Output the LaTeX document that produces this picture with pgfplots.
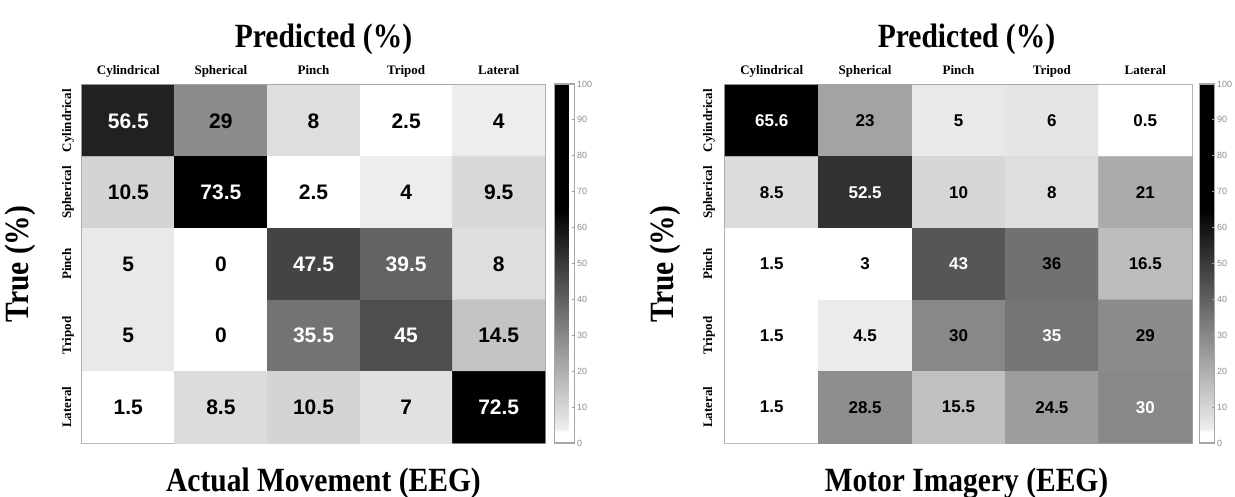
\documentclass[border=0pt]{standalone}
\usepackage{pgfplots}
\pgfplotsset{compat=1.18}
\usepackage{pgfplotstable}
\usepackage{fontspec}
\setmainfont{Liberation Serif}
\newfontfamily\arial{Liberation Sans}

\pgfplotstableread{
x y c
0 0 56.5
1 0 29
2 0 8
3 0 2.5
4 0 4
0 1 10.5
1 1 73.5
2 1 2.5
3 1 4
4 1 9.5
0 2 5
1 2 0
2 2 47.5
3 2 39.5
4 2 8
0 3 5
1 3 0
2 3 35.5
3 3 45
4 3 14.5
0 4 1.5
1 4 8.5
2 4 10.5
3 4 7
4 4 72.5
}\leftdata

\pgfplotstableread{
x y c
0 0 65.6
1 0 23
2 0 5
3 0 6
4 0 0.5
0 1 8.5
1 1 52.5
2 1 10
3 1 8
4 1 21
0 2 1.5
1 2 3
2 2 43
3 2 36
4 2 16.5
0 3 1.5
1 3 4.5
2 3 30
3 3 35
4 3 29
0 4 1.5
1 4 28.5
2 4 15.5
3 4 24.5
4 4 30
}\rightdata

\pgfplotstableread{
x y c
0 0 56.5
1 1 73.5
2 2 47.5
3 2 39.5
2 3 35.5
3 3 45
4 4 72.5
}\leftwhite

\pgfplotstableread{
x y c
1 0 29
2 0 8
3 0 2.5
4 0 4
0 1 10.5
2 1 2.5
3 1 4
4 1 9.5
0 2 5
1 2 0
4 2 8
0 3 5
1 3 0
4 3 14.5
0 4 1.5
1 4 8.5
2 4 10.5
3 4 7
}\leftblack

\pgfplotstableread{
x y c
0 0 65.6
1 1 52.5
2 2 43
3 3 35
4 4 30
}\rightwhite

\pgfplotstableread{
x y c
1 0 23
2 0 5
3 0 6
4 0 0.5
0 1 8.5
2 1 10
3 1 8
4 1 21
0 2 1.5
1 2 3
3 2 36
4 2 16.5
0 3 1.5
1 3 4.5
2 3 30
4 3 29
0 4 1.5
1 4 28.5
2 4 15.5
3 4 24.5
}\rightblack

\tikzset{ttl/.style={font=\bfseries\fontsize{29.5}{29.5}\selectfont, anchor=base, inner sep=0pt}}

\pgfplotsset{
  cm/.style={
    anchor=south west, scale only axis, clip=false,
    xmin=-0.5, xmax=4.5, ymin=-0.5, ymax=4.5, y dir=reverse,
    xtick={0,...,4}, ytick={0,...,4},
    xticklabels={Cylindrical,Spherical,Pinch,Tripod,Lateral},
    yticklabels={Cylindrical,Spherical,Pinch,Tripod,Lateral},
    xticklabel pos=upper,
    major tick length=0pt,
    xticklabel style={anchor=base, yshift=11pt, font=\bfseries\fontsize{13}{13}\selectfont},
    axis line style={draw=gray!70, line width=1.2pt},
    colormap={bw}{gray(0cm)=(1) gray(3cm)=(1) gray(4cm)=(0.93) gray(65cm)=(0) gray(100cm)=(0)},
    point meta min=0, point meta max=100,
    colorbar,
  },
  cbar/.style 2 args={
    colorbar style={
      at={(parent axis.south east)}, anchor=south west, xshift=#1,
      width=#2, height=359pt, scale only axis,
      ytick={0,10,...,100},
      ytick pos=right, yticklabel pos=right, tick align=inside,
      yticklabel style={font=\arial\fontsize{9}{9}\selectfont, text=gray!90, xshift=-1pt},
      /pgf/number format/assume math mode=true,
      major tick length=3pt,
      tick style={draw=gray!80, line width=0.8pt},
      axis line style={draw=gray!70, line width=1.2pt},
    },
  },
  txt/.style 2 args={only marks, mark=none, point meta=explicit symbolic,
    nodes near coords,
    nodes near coords style={anchor=center, text=#2, font=\arial\bfseries\fontsize{#1}{#1}\selectfont}},
}

\begin{document}
\begin{tikzpicture}
\path[use as bounding box] (0,0) rectangle (1235pt,497pt);
\begin{axis}[cm, cbar={1pt}{20pt}, at={(82pt,54pt)}, width=463pt, height=358pt,
  yticklabel style={xshift=-11pt, rotate=90, anchor=base, font=\bfseries\fontsize{13}{13}\selectfont}]
\addplot[matrix plot*, mesh/cols=5, point meta=explicit] table[meta=c]{\leftdata};
\addplot[txt={21}{black}] table[meta=c]{\leftblack};
\addplot[txt={21}{white}] table[meta=c]{\leftwhite};
\node[ttl, xshift=10pt, yshift=38pt, yscale=1.15] at (axis description cs:0.5,1) {Predicted (\%)};
\node[ttl, xshift=-54pt, rotate=90, yscale=1.15] at (axis description cs:0,0.5) {True (\%)};
\node[ttl, xshift=10pt, yshift=-48pt, yscale=1.15] at (axis description cs:0.5,0) {Actual Movement (EEG)};
\end{axis}
\begin{axis}[cm, cbar={-1pt}{15pt}, at={(725pt,54pt)}, width=467pt, height=358pt,
  yticklabel style={xshift=-13pt, rotate=90, anchor=base, font=\bfseries\fontsize{13}{13}\selectfont}]
\addplot[matrix plot*, mesh/cols=5, point meta=explicit] table[meta=c]{\rightdata};
\addplot[txt={17}{black}] table[meta=c]{\rightblack};
\addplot[txt={17}{white}] table[meta=c]{\rightwhite};
\node[ttl, xshift=8pt, yshift=38pt, yscale=1.15] at (axis description cs:0.5,1) {Predicted (\%)};
\node[ttl, xshift=-52pt, rotate=90, yscale=1.15] at (axis description cs:0,0.5) {True (\%)};
\node[ttl, xshift=8pt, yshift=-48pt, yscale=1.15] at (axis description cs:0.5,0) {Motor Imagery (EEG)};
\end{axis}
\end{tikzpicture}
\end{document}
